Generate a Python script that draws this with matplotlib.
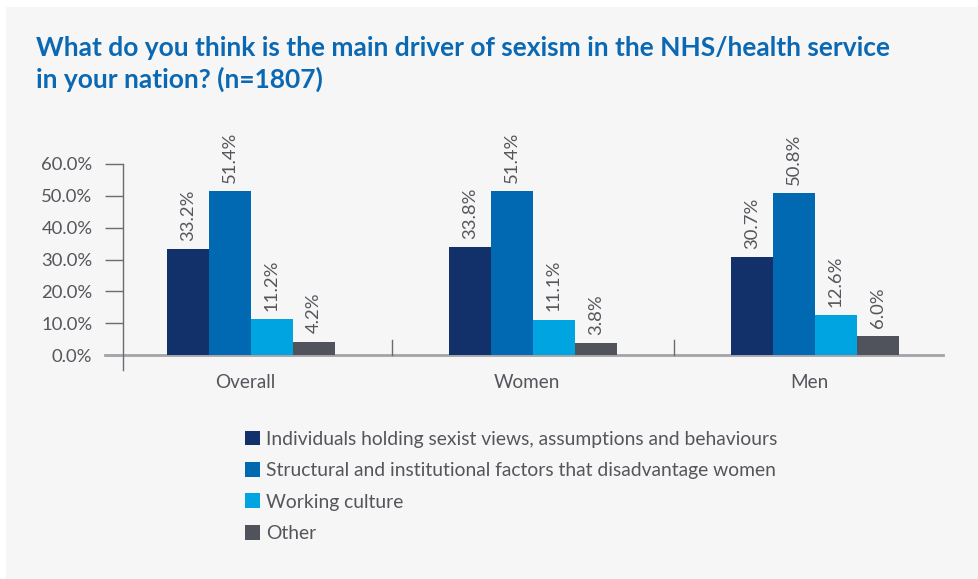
import matplotlib.pyplot as plt
from matplotlib.patches import Patch, Rectangle

# data
groups = ["Overall", "Women", "Men"]
series = [
    "Individuals holding sexist views, assumptions and behaviours",
    "Structural and institutional factors that disadvantage women",
    "Working culture",
    "Other",
]
individuals = [33.2, 33.8, 30.7]
structural = [51.4, 51.4, 50.8]
culture = [11.2, 11.1, 12.6]
other = [4.2, 3.8, 6.0]
yticks = [0, 10, 20, 30, 40, 50, 60]

colors = ["#12316b", "#0069b1", "#00a4e0", "#50535c"]
values = [individuals, structural, culture, other]
text_grey = "#55565c"

plt.rcParams["font.family"] = ["Lato", "DejaVu Sans"]

fig = plt.figure(figsize=(9.79, 5.79), dpi=100, facecolor="white")
fig.add_artist(Rectangle((6 / 979, 0), 1, 1 - 7 / 579, transform=fig.transFigure,
                         facecolor="#f6f6f6", edgecolor="none", zorder=-10))

ax = fig.add_axes([123 / 979, 1 - 370 / 579, 820 / 979, 206 / 579])
ax.set_facecolor("none")
ax.set_zorder(5)

w = 0.149
for i, (vals, c) in enumerate(zip(values, colors)):
    xs = [g + (i - 1.5) * w for g in range(len(groups))]
    bars = ax.bar(xs, vals, width=w, color=c, zorder=3)
    for b, v in zip(bars, vals):
        ax.annotate(f"{v:.1f}%", (b.get_x() + b.get_width() / 2, v),
                    xytext=(0, 6), textcoords="offset points",
                    rotation=90, ha="center", va="bottom",
                    fontsize=13.3, color=text_grey)

ax.set_xlim(-0.454, 2.454)
ax.set_ylim(-4.7, 60)
ax.set_yticks(yticks)
ax.set_yticklabels([f"{t:.1f}%" for t in yticks], fontsize=13.3, color=text_grey)
ax.tick_params(axis="y", length=13, width=1, color="#6b6b70", pad=9)
ax.set_xticks([])

for s in ["top", "right", "bottom"]:
    ax.spines[s].set_visible(False)
ax.spines["left"].set_color("#6b6b70")
ax.spines["left"].set_linewidth(1)

# baseline and group separators
ax.plot([-0.518, 2.454], [0, 0], color="#a3a3a8", lw=2, clip_on=False, zorder=2)
for xsep in [0.5, 1.5]:
    ax.plot([xsep, xsep], [0, 4.7], color="#6b6b70", lw=1, zorder=2)

for g, name in enumerate(groups):
    ax.text(g - 0.02, -8.5, name, ha="center", va="center", fontsize=13.6,
            color=text_grey, clip_on=False)

fig.text(36 / 979, 1 - 36 / 579,
         "What do you think is the main driver of sexism in the NHS/health service\nin your nation? (n=1807)",
         ha="left", va="top", fontsize=19, fontweight="bold", color="#0b68b2",
         linespacing=1.33)

handles = [Patch(facecolor=c, edgecolor="none") for c in colors]
fig.legend(handles, series, loc="upper left", bbox_to_anchor=(237 / 979, 1 - 423 / 579),
           frameon=False, fontsize=13.9, labelcolor=text_grey,
           handlelength=0.8, handleheight=0.8, handletextpad=0.3,
           labelspacing=0.74, borderaxespad=0)

fig.savefig("out.png", dpi=100, facecolor=fig.get_facecolor())
